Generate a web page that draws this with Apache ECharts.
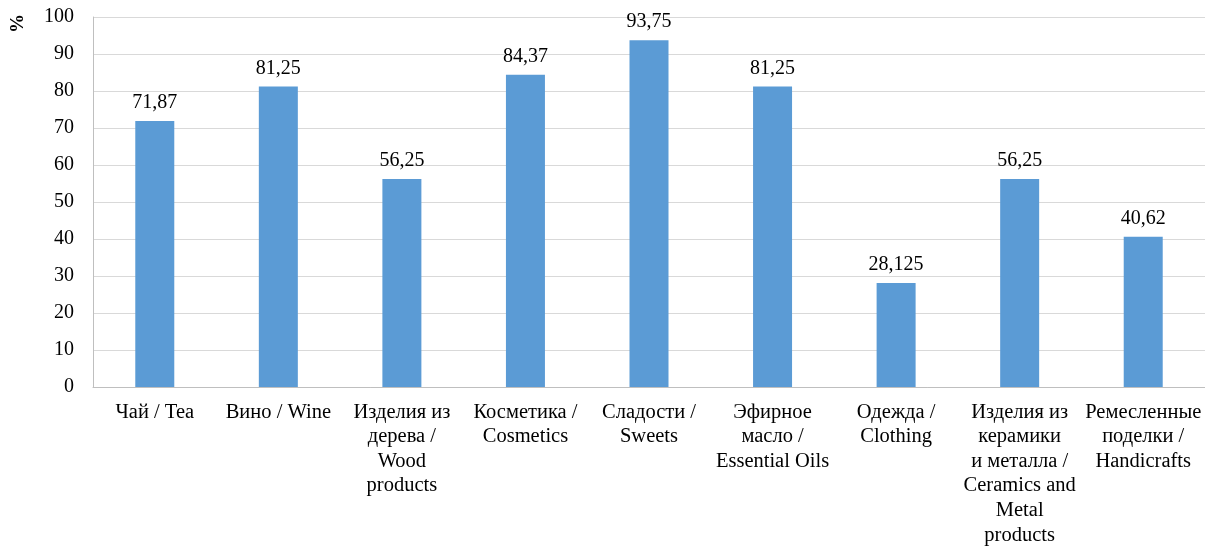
<!DOCTYPE html>
<html><head><meta charset="utf-8">
<script src="https://cdn.jsdelivr.net/npm/echarts@6/dist/echarts.min.js"></script>
<style>html,body{margin:0;padding:0;background:#fff}#c{width:1205px;height:548px}</style>
</head><body><div id="c"></div>
<script>
const categories = [
  "Чай / Tea",
  "Вино / Wine",
  "Изделия из\nдерева /\nWood\nproducts",
  "Косметика /\nCosmetics",
  "Сладости /\nSweets",
  "Эфирное\nмасло /\nEssential Oils",
  "Одежда /\nClothing",
  "Изделия из\nкерамики\nи металла /\nCeramics and\nMetal\nproducts",
  "Ремесленные\nподелки /\nHandicrafts"
];
const values = [71.87, 81.25, 56.25, 84.37, 93.75, 81.25, 28.125, 56.25, 40.62];
const yTicks = { min: 0, max: 100, interval: 10 };
const yName = "%";

const font = "'Liberation Serif', 'Times New Roman', serif";
const chart = echarts.init(document.getElementById('c'));
chart.setOption({
  animation: false,
  grid: { left: 93, right: 0, top: 17, bottom: 161 },
  xAxis: {
    type: 'category', data: categories,
    axisLine: { lineStyle: { color: '#bfbfbf', width: 1 } },
    axisTick: { show: false },
    axisLabel: { interval: 0, color: '#000', fontFamily: font, fontSize: 20.5, lineHeight: 24.6, margin: 13 }
  },
  yAxis: {
    type: 'value', min: yTicks.min, max: yTicks.max, interval: yTicks.interval,
    axisLine: { show: true, lineStyle: { color: '#bfbfbf' } },
    axisTick: { show: false },
    splitLine: { lineStyle: { color: '#d9d9d9' } },
    axisLabel: { color: '#000', fontFamily: font, fontSize: 20, margin: 19 }
  },
  graphic: [{
    type: 'text', left: 9, top: 14, rotation: Math.PI / 2,
    style: { text: yName, font: 'bold 19px ' + font, fill: '#000' }
  }],
  series: [{
    type: 'bar', data: values, barWidth: 39,
    itemStyle: { color: '#5b9bd5' },
    label: {
      show: true, position: 'top', distance: 8, color: '#000', fontFamily: font, fontSize: 20,
      formatter: p => String(p.value).replace('.', ',')
    }
  }]
});
</script></body></html>
